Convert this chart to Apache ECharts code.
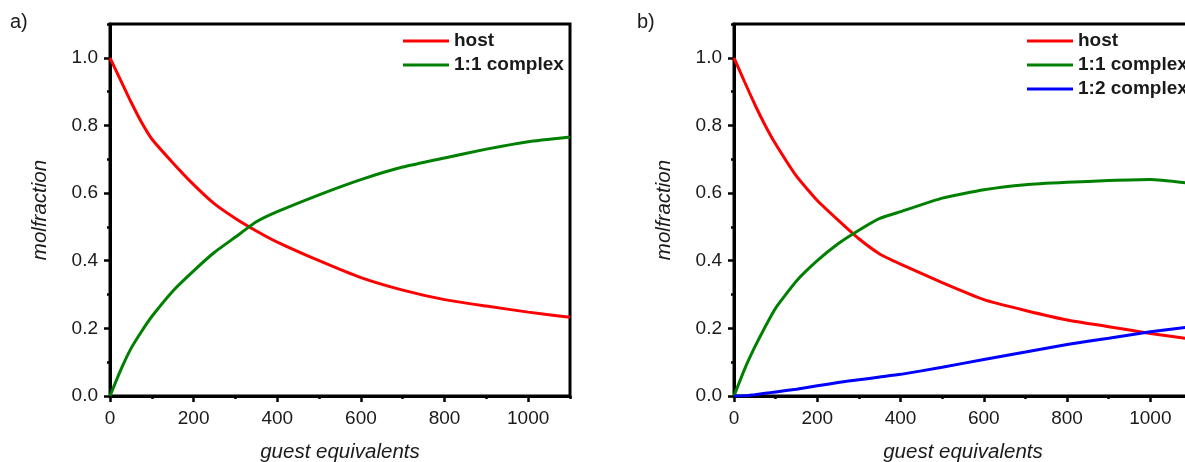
<!DOCTYPE html>
<html>
<head>
<meta charset="utf-8">
<script src="https://cdn.jsdelivr.net/npm/echarts@6/dist/echarts.min.js"></script>
<style>
  html, body { margin: 0; padding: 0; background: #fff; }
  #chart { width: 1185px; height: 462px; }
</style>
</head>
<body>
<div id="chart"></div>
<script>
// guest equivalents sampled from the figure
const equivalents = [0, 25, 50, 75, 100, 150, 200, 250, 300, 350, 400, 500, 600, 700, 800, 900, 1000, 1100]

// panel a)
const hostA    = [1.0, 0.935, 0.87, 0.81, 0.76, 0.69, 0.625, 0.568, 0.525, 0.488, 0.455, 0.40, 0.35, 0.313, 0.285, 0.266, 0.248, 0.233]
const complexA = [0, 0.075, 0.14, 0.19, 0.235, 0.31, 0.37, 0.425, 0.47, 0.515, 0.545, 0.595, 0.64, 0.677, 0.704, 0.73, 0.752, 0.766]

// panel b)
const hostB     = [1.0, 0.93, 0.862, 0.8, 0.745, 0.65, 0.578, 0.52, 0.465, 0.42, 0.39, 0.335, 0.285, 0.253, 0.225, 0.205, 0.185, 0.168]
const complex1B = [0, 0.078, 0.145, 0.205, 0.26, 0.34, 0.4, 0.45, 0.49, 0.525, 0.545, 0.585, 0.61, 0.625, 0.632, 0.637, 0.64, 0.628]
const complex2B = [0, 0.001, 0.004, 0.008, 0.012, 0.02, 0.03, 0.04, 0.048, 0.056, 0.064, 0.085, 0.108, 0.13, 0.152, 0.171, 0.19, 0.205]

const xMajor = [0, 200, 400, 600, 800, 1000]
const xMinor = [100, 300, 500, 700, 900, 1100]
const yMajor = [0, 0.2, 0.4, 0.6, 0.8, 1.0]
const yMinor = [0.1, 0.3, 0.5, 0.7, 0.9, 1.1]

const FONT = '"Liberation Sans", Arial, sans-serif'
const INK = '#1a1a1a'

function pairs(ys) {
  return equivalents.map((x, i) => [x, ys[i]])
}

function xAxes(gridIndex) {
  const base = { type: 'value', gridIndex, min: 0, max: 1100, splitLine: { show: false } }
  return [
    {
      ...base,
      name: 'guest equivalents',
      nameLocation: 'middle',
      nameGap: 46,
      nameTextStyle: { fontFamily: FONT, fontStyle: 'italic', fontSize: 20.5, color: INK },
      axisLine: { lineStyle: { color: '#000', width: 3 } },
      axisTick: { customValues: xMajor, length: 6, lineStyle: { color: '#000', width: 2.5 } },
      axisLabel: {
        customValues: xMajor, margin: 13, fontFamily: FONT, fontSize: 19, color: INK,
        formatter: v => String(v)
      }
    },
    {
      ...base,
      position: 'bottom',
      axisLine: { show: false },
      axisTick: { customValues: xMinor, length: 3, lineStyle: { color: '#000', width: 2.5 } },
      axisLabel: { show: false }
    }
  ]
}

function yAxes(gridIndex) {
  const base = { type: 'value', gridIndex, min: 0, max: 1.1, splitLine: { show: false } }
  return [
    {
      ...base,
      name: 'molfraction',
      nameLocation: 'middle',
      nameRotate: 90,
      nameGap: 60,
      nameTextStyle: { fontFamily: FONT, fontStyle: 'italic', fontSize: 20.5, color: INK },
      axisLine: { lineStyle: { color: '#000', width: 3 } },
      axisTick: { customValues: yMajor, length: 6, lineStyle: { color: '#000', width: 2.5 } },
      axisLabel: {
        customValues: yMajor, margin: 12, fontFamily: FONT, fontSize: 19, color: INK,
        formatter: v => v.toFixed(1)
      }
    },
    {
      ...base,
      position: 'left',
      axisLine: { show: false },
      axisTick: { customValues: yMinor, length: 3, lineStyle: { color: '#000', width: 2.5 } },
      axisLabel: { show: false }
    }
  ]
}

function line(name, ys, color, xAxisIndex, yAxisIndex) {
  return {
    name,
    type: 'line',
    xAxisIndex,
    yAxisIndex,
    data: pairs(ys),
    showSymbol: false,
    smooth: 0.15,
    lineStyle: { color, width: 3 },
    itemStyle: { color },
    emphasis: { disabled: true }
  }
}

const legendBase = {
  orient: 'vertical',
  icon: 'rect',
  itemWidth: 46,
  itemHeight: 3,
  itemGap: 0,
  padding: 0,
  textStyle: { fontFamily: FONT, fontWeight: 'bold', fontSize: 19, color: INK, lineHeight: 24 }
}

const gridBase = {
  top: 24, height: 372, show: true, borderColor: '#000', borderWidth: 3,
  outerBoundsMode: 'none', containLabel: false
}

const chart = echarts.init(document.getElementById('chart'))

chart.setOption({
  backgroundColor: '#fff',
  animation: false,
  grid: [
    { ...gridBase, left: 110, width: 460 },
    { ...gridBase, left: 734, width: 458 }
  ],
  xAxis: [...xAxes(0), ...xAxes(1)],
  yAxis: [...yAxes(0), ...yAxes(1)],
  legend: [
    { ...legendBase, left: 403, top: 29, data: ['host', '1:1 complex'] },
    { ...legendBase, left: 1027, top: 29, data: ['host', '1:1 complex', '1:2 complex'] }
  ],
  graphic: [
    { type: 'text', left: 10, top: 12, style: { text: 'a)', font: '20px ' + FONT, fill: INK } },
    { type: 'text', left: 637, top: 12, style: { text: 'b)', font: '20px ' + FONT, fill: INK } }
  ],
  series: [
    line('host', hostA, '#ff0000', 0, 0),
    line('1:1 complex', complexA, '#008000', 0, 0),
    line('host', hostB, '#ff0000', 2, 2),
    line('1:1 complex', complex1B, '#008000', 2, 2),
    line('1:2 complex', complex2B, '#0000ff', 2, 2)
  ]
})

window.addEventListener('resize', () => chart.resize())
</script>
</body>
</html>
